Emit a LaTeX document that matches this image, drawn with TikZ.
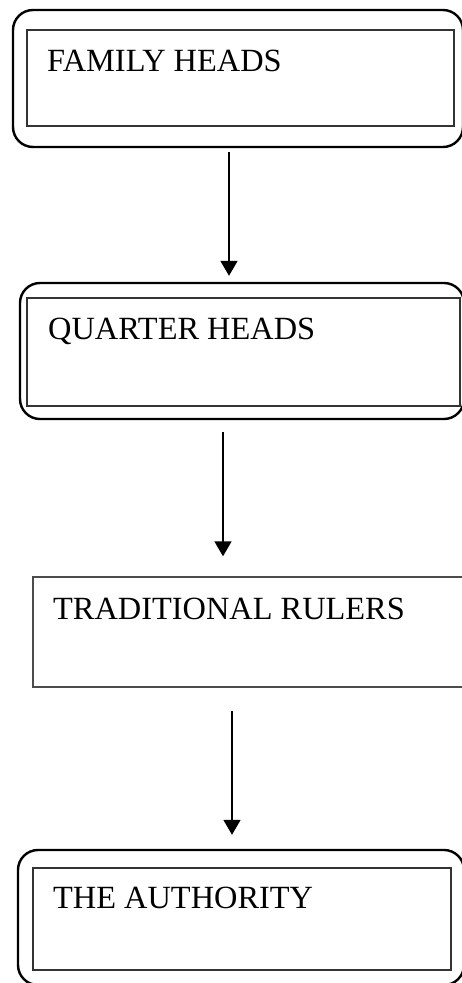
\documentclass[tikz,border=0pt]{standalone}
\usepackage{fontspec}
\setmainfont{Liberation Serif}
\usetikzlibrary{arrows.meta}

\tikzset{
  outerframe/.style={draw=black, line width=2.4bp, rounded corners=20bp,
    rectangle, inner sep=0pt, fill=none},
  innerframe/.style={draw=black!80, line width=1.3bp, rectangle, inner sep=0pt},
  plainframe/.style={draw=black!70, line width=1.4bp, rectangle, inner sep=0pt},
  label/.style={anchor=base west, inner sep=0pt, font=\fontsize{32.5}{38}\selectfont},
  flow/.style={draw=black, line width=1.8bp, -{Triangle[length=15bp,width=17bp]}}
}

\begin{document}
\begin{tikzpicture}[x=1bp, y=-1bp]
  \useasboundingbox (0,0) rectangle (462,983);
  \clip (0,0) rectangle (462,983);

  % Family heads
  \node[outerframe, minimum width=450bp, minimum height=137bp] (famOuter) at (238,78.5) {};
  \node[innerframe, minimum width=427bp, minimum height=96bp] (famInner) at (240.5,78) {};
  \node[label] (famText) at (47,71) {FAMILY HEADS};

  % Quarter heads
  \node[outerframe, minimum width=444bp, minimum height=136bp] (quaOuter) at (242,351) {};
  \node[innerframe, minimum width=433bp, minimum height=108bp] (quaInner) at (243.5,352) {};
  \node[label] (quaText) at (48,339) {QUARTER HEADS};

  % Traditional rulers
  \node[plainframe, minimum width=437bp, minimum height=110bp] (traBox) at (251.5,632) {};
  \node[label] (traText) at (53,619) {TRADITIONAL RULERS};

  % The authority
  \node[outerframe, minimum width=446bp, minimum height=135bp] (autOuter) at (241,917.5) {};
  \node[innerframe, minimum width=418bp, minimum height=102bp] (autInner) at (242,919) {};
  \node[label] (autText) at (53,908) {THE AUTHORITY};

  % Connectors
  \coordinate (ax1) at (229,0);
  \coordinate (ax2) at (223,0);
  \coordinate (ax3) at (232,0);
  \draw[flow, shorten <=4bp, shorten >=6bp] (famOuter.south -| ax1) -- (quaOuter.north -| ax1);
  \draw[flow, shorten <=12bp, shorten >=20bp] (quaOuter.south -| ax2) -- (traBox.north -| ax2);
  \draw[flow, shorten <=23bp, shorten >=14bp] (traBox.south -| ax3) -- (autOuter.north -| ax3);
\end{tikzpicture}
\end{document}
